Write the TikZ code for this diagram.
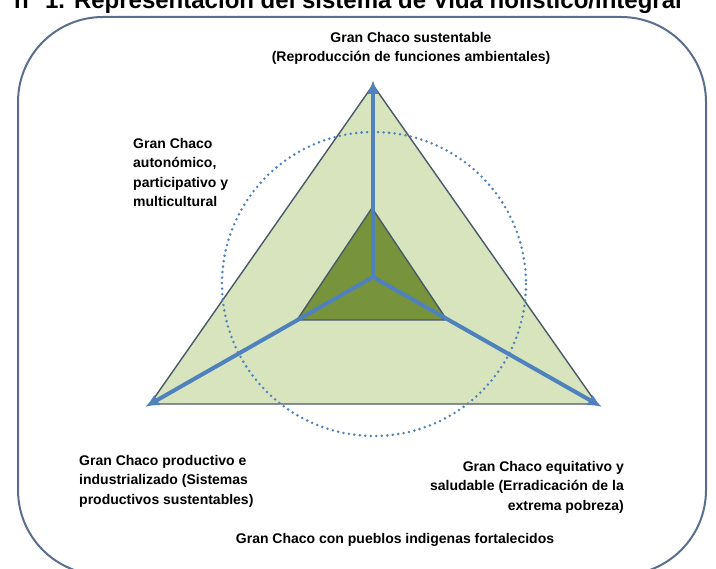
\documentclass[tikz,border=0pt]{standalone}
\usepackage{fontspec}
\setmainfont{Liberation Sans}
\usetikzlibrary{arrows.meta}

\definecolor{axisblue}{HTML}{4F81BD}
\definecolor{lightgreen}{HTML}{D7E4BD}
\definecolor{darkgreen}{HTML}{77933C}
\definecolor{framegray}{HTML}{5B6E8E}
\definecolor{edgegray}{HTML}{4A5868}

\begin{document}
\begin{tikzpicture}[x=1pt, y=-1pt,
                    axis/.style = {draw=axisblue, line width=4pt,
                    -{Latex[length=14pt,width=12pt]}},
                    every node/.style = {inner sep=0pt,
                    font=\bfseries\fontsize{14}{19.5}\selectfont}]
  \useasboundingbox (0,0) rectangle (716,569);
  \clip (0,0) rectangle (716,569);
  % title, cut by the top edge
  \node[anchor=base west, font=\bfseries\fontsize{24}{28}\selectfont]
    (title) at (14,9) {n° 1. Representación del sistema de Vida holístico/integral};
  % frame
  \draw[framegray, line width=2pt, rounded corners=85pt, fill=white]
    (18,17) rectangle (706,575);
  % corners of the triangles
  \coordinate (c) at (373,277);
  \coordinate (top) at (373,85);
  \coordinate (left) at (150,404);
  \coordinate (right) at (597,404);
  \coordinate (itop) at (372,208);
  \coordinate (ileft) at (297,320);
  \coordinate (iright) at (447,320);
  \draw[edgegray, line width=1.4pt, fill=lightgreen] (top) -- (left) -- (right) -- cycle;
  \draw[axisblue, line width=2.8pt, line cap=round, dash pattern=on 0pt off 5.5pt]
    (374,284) circle (152);
  \draw[edgegray, line width=1.4pt, fill=darkgreen] (itop) -- (ileft) -- (iright) -- cycle;
  \draw[axis] (c) -- (373,80);
  \draw[axis] (c) -- (145,407);
  \draw[axis] (c) -- (602,407);
  % labels
  \node[anchor=north, align=center] (sust) at (411,32)
    {Gran Chaco sustentable\\(Reproducción de funciones ambientales)};
  \node[anchor=north west, align=left] (auto) at (133,138)
    {Gran Chaco\\autonómico,\\participativo y\\multicultural};
  \node[anchor=north west, align=left] (prod) at (79,455)
    {Gran Chaco productivo e\\industrializado (Sistemas\\productivos sustentables)};
  \node[anchor=north east, align=right] (equi) at (624,461)
    {Gran Chaco equitativo y\\saludable (Erradicación de la\\extrema pobreza)};
  \node[anchor=north] (pueb) at (395,533)
    {Gran Chaco con pueblos indigenas fortalecidos};
\end{tikzpicture}
\end{document}
